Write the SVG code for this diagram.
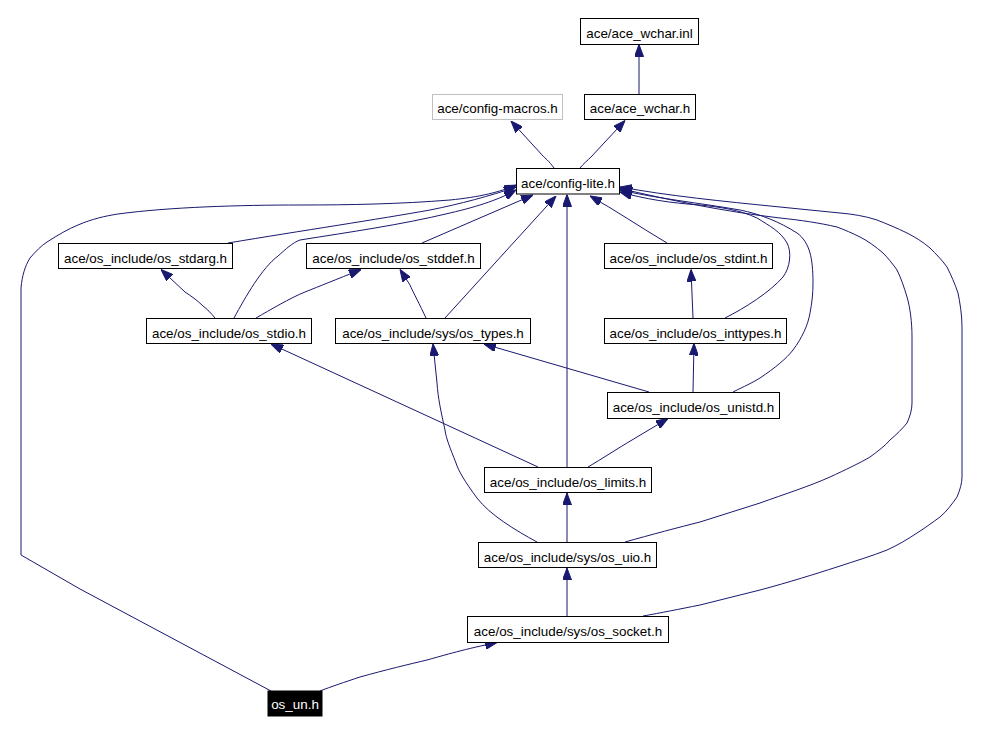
<svg xmlns="http://www.w3.org/2000/svg" width="982" height="734" viewBox="0 0 982 734">
<style>
.n rect{fill:#ffffff;stroke:#000000;stroke-width:1}
.n text{font-family:"Liberation Sans",Arial,sans-serif;font-size:13.4px;text-anchor:middle;fill:#000000}
#n_config_macros rect{stroke:#bfbfbf}
#n_os_un rect{fill:#000000}
#n_os_un text{fill:#ffffff}
#edges path{fill:none;stroke:#191970;stroke-width:1;marker-end:url(#ah)}
</style>
<defs>
<marker id="ah" markerUnits="userSpaceOnUse" markerWidth="12" markerHeight="9" refX="12" refY="4.5" orient="auto" viewBox="0 0 12 9">
<path d="M0,0 L12,4.5 L0,9 z" fill="#191970" stroke="#191970" stroke-width="1"/>
</marker>
</defs>
<rect width="982" height="734" fill="#ffffff"/>
<g id="edges">
<path d="M639,94 L639,44.5"/>
<path d="M554,168 C549,161 545,158 543,156 L511,121"/>
<path d="M580,168 C584,163 588,160 591,157 L625,120.5"/>
<path d="M271,691 L80,589 L21,555 L21,288 C22,276 25,266 30,258 C36,251 41,246 47,242 C58,235 68,229 78,225 C92,219 105,216 118,214 C170,207 240,205 300,205 C350,205 400,204 450,200 C480,197 500,192 516,185"/>
<path d="M228,243 C300,231 380,219 430,210 C460,204 490,196 516,187"/>
<path d="M234,318 C246,296 262,268 278,256 C286,249 292,243 300,240 C350,232 400,225 450,213 C480,206 500,199 516,190"/>
<path d="M422,243 L533,195"/>
<path d="M445,318 L556,196"/>
<path d="M567,467 L567,194.5"/>
<path d="M667,243 C640,227 615,210 590,196"/>
<path d="M725,318 C745,308 770,292 783,277 C790,268 792,252 787,243 C781,232 770,226 757,218 C740,210 720,207 700,205 C670,203 645,199 620,192"/>
<path d="M733,392 C745,386 752,383 760,378 C775,368 787,358 793,350 C802,338 808,325 810,313 C812,303 813,293 813,283 C813,270 812,260 810,253 C808,245 803,237 797,233 C780,222 760,214 740,210 C700,203 660,199 620,190"/>
<path d="M625,542 C650,535 680,527 700,522 C720,516 740,509 760,503 C785,494 810,486 830,477 C845,470 860,463 870,457 C878,451 885,446 890,440 C897,434 903,428 907,423 C910,416 912,410 912,403 L912,337 C912,322 910,307 907,297 C904,287 901,278 897,270 C892,263 888,258 883,253 C876,247 868,241 860,237 C852,233 845,230 837,227 C820,223 800,220 780,218 C720,211 670,200 620,188.5"/>
<path d="M643,616 C660,613 680,609 700,605 C720,600 740,595 760,590 C790,582 815,574 837,567 C855,561 872,556 887,550 C898,545 908,539 917,533 C925,528 933,522 940,517 C947,511 952,504 957,497 C960,490 962,483 962,477 L962,327 C962,315 960,303 958,293 C955,284 951,275 947,267 C942,260 936,254 930,248 C923,242 915,237 907,233 C897,228 887,224 877,220 C865,216 852,214 840,213 C820,211 800,209 780,207 C720,201 670,196 620,187"/>
<path d="M215,318 C211,313 207,309 203,306 C197,300 191,296 185,292 L161,269.5"/>
<path d="M256,318 C270,310 290,298 305,292 C320,286 335,280 361,269.5"/>
<path d="M426,318 C420,305 413,292 410,285 L400,269.5"/>
<path d="M693,318 L691,269.5"/>
<path d="M693,392 L694,343.5"/>
<path d="M649,392 L484,344"/>
<path d="M538,467 L271,344"/>
<path d="M588,467 C600,460 620,447 632,440 L668,418.5"/>
<path d="M537,542 C515,530 490,515 477,498 C465,482 458,470 456,463 C450,448 446,438 445,430 C441,412 438,398 437,383 L433,344"/>
<path d="M567,542 L567,493"/>
<path d="M567,616 L567,568"/>
<path d="M320,691 C330,687 345,682 360,677 C385,670 410,664 427,660 C445,655 465,649 497,642.5"/>
</g>
<g id="n_ace_wchar_inl" class="n"><rect x="580.5" y="18.5" width="118" height="26"/><text x="639.5" y="37.5">ace/ace_wchar.inl</text></g>
<g id="n_config_macros" class="n"><rect x="432.5" y="94.5" width="130" height="25"/><text x="497.5" y="113">ace/config-macros.h</text></g>
<g id="n_ace_wchar_h" class="n"><rect x="584.5" y="94.5" width="111" height="25"/><text x="640" y="113">ace/ace_wchar.h</text></g>
<g id="n_config_lite" class="n"><rect x="516.5" y="168.5" width="103" height="25.5"/><text x="568" y="187.5">ace/config-lite.h</text></g>
<g id="n_os_stdarg" class="n"><rect x="58.5" y="243.5" width="174" height="25"/><text x="145.5" y="262.5">ace/os_include/os_stdarg.h</text></g>
<g id="n_os_stddef" class="n"><rect x="306.5" y="243.5" width="174" height="25"/><text x="393.5" y="262.5">ace/os_include/os_stddef.h</text></g>
<g id="n_os_stdint" class="n"><rect x="604.5" y="243.5" width="168" height="25"/><text x="688.5" y="262.5">ace/os_include/os_stdint.h</text></g>
<g id="n_os_stdio" class="n"><rect x="146.5" y="318.5" width="165" height="25"/><text x="229" y="337.5">ace/os_include/os_stdio.h</text></g>
<g id="n_os_types" class="n"><rect x="335.5" y="318.5" width="195" height="25"/><text x="433" y="337.5">ace/os_include/sys/os_types.h</text></g>
<g id="n_os_inttypes" class="n"><rect x="604.5" y="318.5" width="182" height="25"/><text x="695.5" y="337.5">ace/os_include/os_inttypes.h</text></g>
<g id="n_os_unistd" class="n"><rect x="607.5" y="392.5" width="172" height="26"/><text x="693.5" y="412">ace/os_include/os_unistd.h</text></g>
<g id="n_os_limits" class="n"><rect x="484.5" y="467.5" width="167" height="25"/><text x="568" y="486.5">ace/os_include/os_limits.h</text></g>
<g id="n_os_uio" class="n"><rect x="478.5" y="542.5" width="178" height="25"/><text x="567.5" y="561.5">ace/os_include/sys/os_uio.h</text></g>
<g id="n_os_socket" class="n"><rect x="467.5" y="616.5" width="201" height="26"/><text x="568" y="636">ace/os_include/sys/os_socket.h</text></g>
<g id="n_os_un" class="n"><rect x="268" y="691" width="54" height="25"/><text x="295" y="709">os_un.h</text></g>
</svg>
